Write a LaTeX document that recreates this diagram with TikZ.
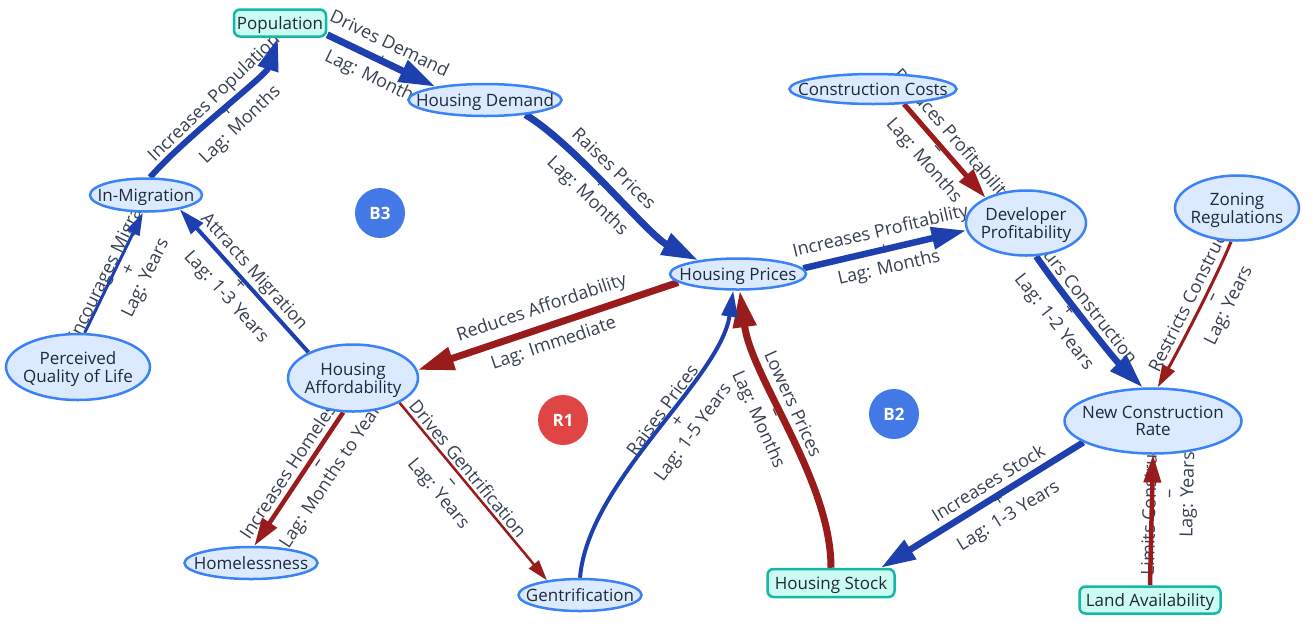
\documentclass[tikz,border=0pt]{standalone}
\usepackage{fontspec}
\setmainfont{Open Sans}
\usetikzlibrary{arrows.meta,shapes.geometric}
\definecolor{eblue}{HTML}{1E40AF}
\definecolor{ered}{HTML}{991B1B}
\definecolor{nfill}{HTML}{DBEAFE}
\definecolor{ndraw}{HTML}{3B82F6}
\definecolor{rfill}{HTML}{CCFBF1}
\definecolor{rdraw}{HTML}{14B8A6}
\definecolor{ntext}{HTML}{1F2937}
\definecolor{ltext}{HTML}{374151}
\definecolor{loopb}{HTML}{4279E6}
\definecolor{loopr}{HTML}{E04545}
\newcommand{\mylbl}[1]{\makebox[0pt]{\raisebox{-2.5pt}[\height][\depth]{\begin{tabular}{@{}c@{}}#1\end{tabular}}}}
\pgfdeclarelayer{bg}
\pgfsetlayers{bg,main}
\begin{document}
\begin{tikzpicture}[x=1pt,y=-1pt,
  ell/.style={ellipse, draw=ndraw, fill=nfill, line width=2.5pt, inner sep=0pt, text=ntext, font=\fontsize{17}{17}\selectfont},
  box/.style={rectangle, rounded corners=6pt, draw=rdraw, fill=rfill, line width=2.5pt, inner sep=0pt, text=ntext, font=\fontsize{17}{17}\selectfont},
  loopmark/.style={circle, fill=#1, minimum size=50pt, inner sep=0pt, text=white, font=\bfseries\fontsize{17}{17}\selectfont},
  posedge/.style={draw=eblue, line width=#1, -{Triangle[length=12pt 3.5, width=7pt 2.2]}},
  negedge/.style={draw=ered, line width=#1, -{Triangle[length=12pt 3.5, width=7pt 2.2]}},
  lab/.style={sloped, behind path, align=center, text=ltext, inner sep=0pt, font=\fontsize{18}{18.7}\selectfont},
]
\begin{pgfonlayer}{bg}
\fill[white] (0,0) rectangle (1313,630);
\end{pgfonlayer}
\useasboundingbox (0,0) rectangle (1313,630);

% nodes
\node[box, minimum width=92pt, minimum height=27pt] (pop) at (280,23) {\mylbl{Population}};
\node[ell, minimum width=153pt, minimum height=32pt] (hd) at (485,100) {\mylbl{Housing Demand}};
\node[ell, minimum width=112pt, minimum height=33pt] (inmig) at (146,195) {\mylbl{In-Migration}};
\node[ell, minimum width=167pt, minimum height=30pt] (cc) at (873,89) {\mylbl{Construction Costs}};
\node[ell, minimum width=120pt, minimum height=65pt] (dp) at (1026,223) {\mylbl{Developer\\Profitability}};
\node[ell, minimum width=124pt, minimum height=65pt] (zr) at (1237,208) {\mylbl{Zoning\\Regulations}};
\node[ell, minimum width=136pt, minimum height=31pt] (hp) at (738,274) {\mylbl{Housing Prices}};
\node[ell, minimum width=177pt, minimum height=65pt] (ncr) at (1153,421) {\mylbl{New Construction\\Rate}};
\node[ell, minimum width=144pt, minimum height=66pt] (pql) at (78,367) {\mylbl{Perceived\\Quality of Life}};
\node[ell, minimum width=130pt, minimum height=67pt] (ha) at (353,378) {\mylbl{Housing\\Affordability}};
\node[ell, minimum width=133pt, minimum height=32pt] (hl) at (251,563) {\mylbl{Homelessness}};
\node[ell, minimum width=123pt, minimum height=32pt] (gent) at (580,595) {\mylbl{Gentrification}};
\node[box, minimum width=127pt, minimum height=28pt] (hs) at (831,583) {\mylbl{Housing Stock}};
\node[box, minimum width=141pt, minimum height=27pt] (la) at (1150,600) {\mylbl{Land Availability}};

\node[loopmark=loopb] (b3) at (380,213) {B3};
\node[loopmark=loopr] (r1) at (563,420) {R1};
\node[loopmark=loopb] (b2) at (894,414) {B2};

\begin{pgfonlayer}{bg}
\draw[posedge=6pt] (inmig.77) .. controls +(35,-40) and +(-12,38) .. (pop.262)
  node[lab,pos=.5,yshift=-7pt]{Increases Population\\+\\Lag: Months};
\draw[posedge=7pt] (pop.-14) -- (hd.165)
  node[lab,pos=.5,yshift=-1pt]{Drives Demand\\+\\Lag: Months};
\draw[posedge=7pt] (hd.-20) .. controls +(50,30) and +(-50,-25) .. (hp.161)
  node[lab,pos=.45,yshift=-4pt]{Raises Prices\\+\\Lag: Months};
\draw[posedge=6.5pt] (hp.5) -- (dp.187)
  node[lab,pos=.5,yshift=-1pt]{Increases Profitability\\+\\Lag: Months};
\draw[negedge=5pt] (cc.-26) -- (dp.148)
  node[lab,pos=.45,yshift=-4pt]{Reduces Profitability\\–\\Lag: Months};
\draw[posedge=6.5pt] (dp.-73) .. controls +(20,30) and +(-30,-30) .. (ncr.107)
  node[lab,pos=.4,yshift=-7pt]{Spurs Construction\\+\\Lag: 1-2 Years};
\draw[negedge=3pt] (zr.260) .. controls +(-12,30) and +(25,-45) .. (ncr.82)
  node[lab,pos=.41,yshift=-7pt]{Restricts Construction\\–\\Lag: Years};
\draw[negedge=4.5pt] (la.north) -- (ncr.south)
  node[lab,pos=.7,yshift=-18pt]{Limits Construction\\–\\Lag: Years};
\draw[posedge=6.5pt] (ncr.197) -- (hs.17)
  node[lab,pos=.43,yshift=-5pt]{Increases Stock\\+\\Lag: 1-3 Years};
\draw[negedge=7pt] (hs.north) .. controls +(0,-88) and +(12,88) .. (hp.-84)
  node[lab,pos=.57,yshift=-7pt]{Lowers Prices\\–\\Lag: Months};
\draw[posedge=4pt] (gent.north) .. controls +(8,-97) and +(-13,89) .. (hp.-106)
  node[lab,pos=.56,yshift=-14pt]{Raises Prices\\+\\Lag: 1-5 Years};
\draw[negedge=7pt] (hp.188) -- (ha.7)
  node[lab,pos=.5]{Reduces Affordability\\–\\Lag: Immediate};
\draw[negedge=2.5pt] (ha.-28) -- (gent.156)
  node[lab,pos=.41,yshift=-10pt]{Drives Gentrification\\–\\Lag: Years};
\draw[negedge=4.5pt] (ha.-106) -- (hl.79)
  node[lab,pos=.35,yshift=-7pt]{Increases Homelessness\\–\\Lag: Months to Years};
\draw[posedge=4pt] (ha.150) -- (inmig.-23)
  node[lab,pos=.5,yshift=-6pt]{Attracts Migration\\+\\Lag: 1-3 Years};
\draw[posedge=3pt] (pql.79) -- (inmig.260)
  node[lab,pos=.57,yshift=-13pt]{Encourages Migration\\+\\Lag: Years};
\end{pgfonlayer}
\end{tikzpicture}
\end{document}
